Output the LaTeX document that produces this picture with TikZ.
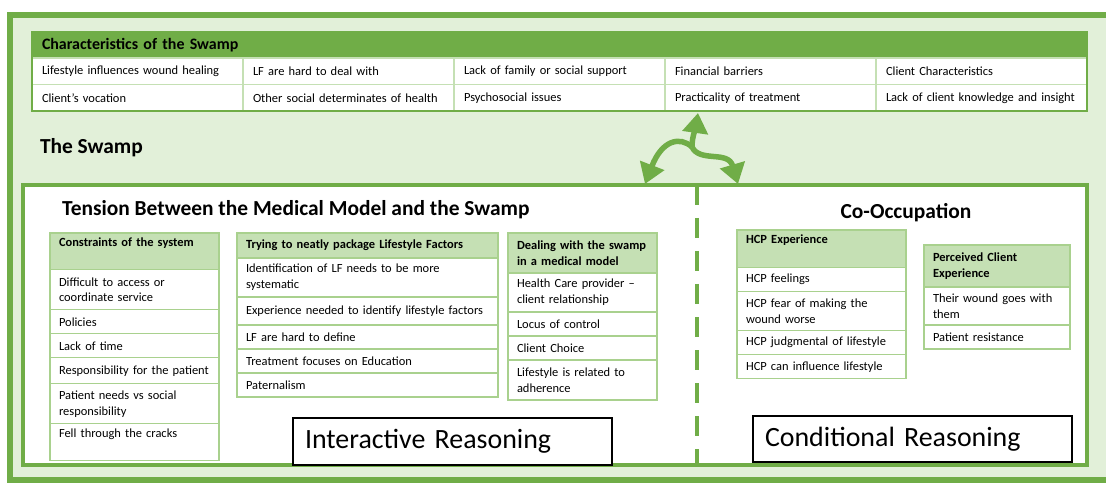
\documentclass[tikz,border=0pt]{standalone}
\usepackage{fontspec}
\setmainfont{Carlito}
\usepackage{tikz}
\usetikzlibrary{arrows.meta, positioning, fit}
\usepackage{xcolor}
\definecolor{swampgreen}{HTML}{70AD47}
\definecolor{swampbg}{HTML}{E2F0D9}
\definecolor{swamphead}{HTML}{C5E0B4}
\definecolor{swampline}{HTML}{A9D18E}
\tikzstyle{charhead} = [rectangle, draw=swampgreen, fill=swampgreen, minimum height=26bp, text width=1035bp, inner xsep=10bp, align=left, font=\fontsize{16}{19}\selectfont\bfseries]
\tikzstyle{charcell} = [rectangle, draw=swamphead, fill=white, minimum height=26.5bp, text width=191bp, inner xsep=10bp, align=left, font=\fontsize{12.5}{15}\selectfont]
\tikzstyle{subhead} = [rectangle, draw=swampline, fill=swamphead, minimum height=24bp, inner xsep=9bp, inner ysep=5bp, align=left, font=\fontsize{12.5}{16}\selectfont\bfseries]
\tikzstyle{subcell} = [rectangle, draw=swampline, fill=white, minimum height=24bp, inner xsep=9bp, inner ysep=5bp, align=left, font=\fontsize{12.5}{16}\selectfont]
\tikzstyle{reasonbox} = [rectangle, draw=black, line width=1.2bp, fill=white, minimum width=319bp, minimum height=47bp, text width=295bp, inner xsep=12bp, align=left, font=\fontsize{28}{32}\selectfont]
\tikzstyle{swamptitle} = [inner sep=0pt, font=\fontsize{21.5}{24}\selectfont\bfseries]
\tikzstyle{swamparrow} = [draw=swampgreen, line width=5.5bp, -{Triangle[width=25bp, length=20bp]}]

\begin{document}
\begin{tikzpicture}[x=1bp, y=-1bp, outer sep=0pt, line width=1.2bp,
  consbox/.style={text width=151bp}, packbox/.style={text width=243bp},
  dealbox/.style={text width=131bp}, hcpbox/.style={text width=151bp},
  clientbox/.style={text width=128bp}]
  \useasboundingbox[fill=white] (0,0) rectangle (1106,483);
  \node[draw=swampgreen, line width=6bp, fill=swampbg, minimum width=1110bp, minimum height=464.5bp, anchor=north west, inner sep=0pt] (frame) at (9.5,15.5) {};

  % characteristics table
  \node[charhead, anchor=north west] (chartitle) at (32,32) {Characteristics of the Swamp};
  \node[charcell, anchor=north west] (c11) at (chartitle.south west) {Lifestyle influences wound healing};
  \node[charcell, right=0pt of c11] (c12) {LF are hard to deal with};
  \node[charcell, right=0pt of c12] (c13) {Lack of family or social support};
  \node[charcell, right=0pt of c13] (c14) {Financial barriers};
  \node[charcell, right=0pt of c14] (c15) {Client Characteristics};
  \node[charcell, below=0pt of c11] (c21) {Client’s vocation};
  \node[charcell, right=0pt of c21] (c22) {Other social determinates of health};
  \node[charcell, right=0pt of c22] (c23) {Psychosocial issues};
  \node[charcell, right=0pt of c23] (c24) {Practicality of treatment};
  \node[charcell, right=0pt of c24] (c25) {Lack of client knowledge and insight};
  \node[fit=(chartitle)(c25), draw=swampgreen, line width=2.5bp, inner sep=0pt] (chartable) {};

  \node[swamptitle, anchor=west] (swamplabel) at (40,148) {The Swamp};

  % the swamp
  \node[draw=swampgreen, line width=4.5bp, fill=white, minimum width=1064bp, minimum height=280bp, anchor=north west, inner sep=0pt] (swampbox) at (23,185) {};
  \draw[swampgreen, line width=4bp, dash pattern=on 20bp off 13bp] ([xshift=674bp]swampbox.north west) -- ([xshift=674bp]swampbox.south west);

  \node[swamptitle, anchor=west] (tension) at (62,210) {Tension Between the Medical Model and the Swamp};
  \node[swamptitle] (coocc) at (906,213) {Co-Occupation};

  \node[subhead, consbox, text depth=18bp, anchor=north west] (cons) at (50,233) {Constraints of the system};
  \node[subcell, consbox, minimum height=40bp, below=0pt of cons] (cons1) {Difficult to access or\\coordinate service};
  \node[subcell, consbox, below=0pt of cons1] (cons2) {Policies};
  \node[subcell, consbox, below=0pt of cons2] (cons3) {Lack of time};
  \node[subcell, consbox, minimum height=26bp, below=0pt of cons3] (cons4) {Responsibility for the patient};
  \node[subcell, consbox, minimum height=40bp, below=0pt of cons4] (cons5) {Patient needs vs social\\responsibility};
  \node[subcell, consbox, text depth=18bp, below=0pt of cons5] (cons6) {Fell through the cracks};

  \node[subhead, packbox, minimum height=25bp, anchor=north west] (pack) at (237,233) {Trying to neatly package Lifestyle Factors};
  \node[subcell, packbox, minimum height=39bp, below=0pt of pack] (pack1) {Identification of LF needs to be more\\systematic};
  \node[subcell, packbox, minimum height=28bp, below=0pt of pack1] (pack2) {Experience needed to identify lifestyle factors};
  \node[subcell, packbox, below=0pt of pack2] (pack3) {LF are hard to define};
  \node[subcell, packbox, below=0pt of pack3] (pack4) {Treatment focuses on Education};
  \node[subcell, packbox, below=0pt of pack4] (pack5) {Paternalism};

  \node[subhead, dealbox, minimum height=40bp, anchor=north west] (deal) at (508,233) {Dealing with the swamp\\in a medical model};
  \node[subcell, dealbox, minimum height=39bp, below=0pt of deal] (deal1) {Health Care provider –\\client relationship};
  \node[subcell, dealbox, below=0pt of deal1] (deal2) {Locus of control};
  \node[subcell, dealbox, below=0pt of deal2] (deal3) {Client Choice};
  \node[subcell, dealbox, minimum height=40bp, below=0pt of deal3] (deal4) {Lifestyle is related to\\adherence};

  \node[subhead, hcpbox, text depth=19bp, anchor=north west] (hcp) at (737,230) {HCP Experience};
  \node[subcell, hcpbox, below=0pt of hcp] (hcp1) {HCP feelings};
  \node[subcell, hcpbox, minimum height=39bp, below=0pt of hcp1] (hcp2) {HCP fear of making the\\wound worse};
  \node[subcell, hcpbox, below=0pt of hcp2] (hcp3) {HCP judgmental of lifestyle};
  \node[subcell, hcpbox, below=0pt of hcp3] (hcp4) {HCP can influence lifestyle};

  \node[subhead, clientbox, minimum height=42bp, anchor=north west] (client) at (924,245) {Perceived Client\\Experience};
  \node[subcell, clientbox, minimum height=38bp, below=0pt of client] (client1) {Their wound goes with\\them};
  \node[subcell, clientbox, below=0pt of client1] (client2) {Patient resistance};

  \node[reasonbox, anchor=north west] (interactive) at (293,418) {Interactive Reasoning};
  \node[reasonbox, minimum height=46bp, anchor=north west] (conditional) at (753,416) {Conditional Reasoning};

  % three way arrow
  \coordinate (hub) at (692,147);
  \coordinate (uptip) at (698,113);
  \coordinate (lefttip) at (645,184);
  \coordinate (righttip) at (738,184);
  \draw[swamparrow] (hub) .. controls (692,136) and (696,127) .. (uptip);
  \draw[swamparrow] (hub) .. controls (680,136) and (662,140) .. (lefttip);
  \draw[swamparrow] (hub) .. controls (700,163) and (728,150) .. (righttip);
\end{tikzpicture}
\end{document}
